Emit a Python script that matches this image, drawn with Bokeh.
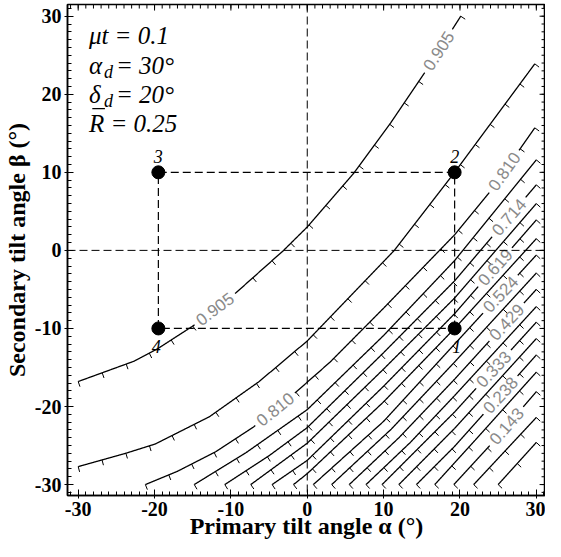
import numpy as np
from bokeh.plotting import figure
from bokeh.models import Span, FixedTicker, Range1d
from bokeh.core.properties import value
from bokeh.embed import file_html
from bokeh.resources import INLINE

# ---------------- data ----------------
# contour curves (alpha, beta) in degrees; levels k/21
c19_0905 = [(-30, -16.8), (-22.7, -14.2), (-19.6, -12.6), (-15, -9.7), (-9.3, -5.4), (-3.1, 0), (0, 3.0), (6.1, 9.9), (10.9, 16.3), (15.4, 22.8), (20.1, 30)]
c18_0857 = [(-30, -27.7), (-23.8, -26.0), (-19.9, -24.8), (-12.8, -21.3), (-6.3, -16.8), (0, -11.6), (11.4, 0), (19.3, 10.0), (29.8, 23.9)]
c17_0810 = [(-21.2, -30), (-17, -28.3), (-12, -25.8), (-7, -22.6), (-2, -18.6), (3, -14.3), (10, -7.4), (19.3, 2.0), (24, 7.6), (29.8, 15.7)]
c16_0762 = [(-14.8, -30), (-8, -25.9), (0, -20.4), (10, -10.9), (19.3, -1.3), (30, 11.6)]
c15_0714 = [(-10.8, -30), (-5, -26.3), (0, -22.7), (10, -13.1), (19.3, -3.9), (30, 8.4)]
c14_0667 = [(-7.4, -30), (0, -24.7), (10, -15.2), (19.3, -6.1), (30, 6.0)]
c13_0619 = [(-4.6, -30), (0, -26.9), (10, -17.4), (19.3, -8.1), (30, 3.9)]
c12_0571 = [(-1.8, -30), (0, -28.6), (10, -19.4), (19.3, -10.0), (30, 1.5)]
c11_0524 = [(0.8, -30), (10, -21.9), (19.3, -12.0), (30, -0.6)]
c10_0476 = [(3.2, -30), (11, -22.9), (19.3, -14.3), (30, -2.9)]
c09_0429 = [(5.5, -30), (12, -24.0), (19.3, -16.5), (30, -5.0)]
c08_0381 = [(7.7, -30), (13.5, -24.6), (19.3, -18.6), (30, -7.2)]
c07_0333 = [(9.8, -30), (19.3, -20.7), (30, -9.2)]
c06_0286 = [(12.0, -30), (19.3, -22.8), (30, -11.3)]
c05_0238 = [(14.3, -30), (19.3, -25.1), (30, -13.4)]
c04_0190 = [(16.7, -30), (22, -24.3), (30, -15.6)]
c03_0143 = [(19.2, -30), (24, -24.9), (30, -18.1)]
c02_0095 = [(21.8, -30), (30, -21.4)]
c01_0048 = [(25.0, -30), (30, -24.6)]
curves = [c19_0905, c18_0857, c17_0810, c16_0762, c15_0714, c14_0667, c13_0619,
          c12_0571, c11_0524, c10_0476, c09_0429, c08_0381, c07_0333, c06_0286,
          c05_0238, c04_0190, c03_0143, c02_0095, c01_0048]

# contour labels: text, curve index (0 = 0.905 line), alpha position
lab_text = ["0.905", "0.905", "0.810", "0.810", "0.714", "0.619", "0.524", "0.429", "0.333", "0.238", "0.143"]
lab_curve = [0, 0, 2, 2, 4, 6, 8, 10, 12, 14, 16]
lab_alpha = [17.2, -12.1, 25.8, -4.2, 26.4, 24.6, 25.3, 26.1, 24.4, 25.3, 26.1]

# tilt points
pt_alpha = [19.3, 19.3, -19.5, -19.5]
pt_beta = [-10, 10, 10, -10]
pt_name = ["1", "2", "3", "4"]

ticks = [-30, -20, -10, 0, 10, 20, 30]
tick_labels = ["-30", "-20", "-10", "0", "10", "20", "30"]
minor = list(range(-31, 32))

X0, X1, Y0, Y1 = -31.4, 31.2, -31.4, 31.5

# ---------------- figure ----------------
p = figure(width=545, height=541, x_range=Range1d(X0, X1), y_range=Range1d(Y0, Y1),
           output_backend="svg", toolbar_location=None,
           min_border_left=61, min_border_right=0, min_border_top=4, min_border_bottom=40)
p.grid.visible = False
p.outline_line_color = "black"
p.outline_line_width = 1.5
p.background_fill_color = "white"

xb = p.below[0]
yl = p.left[0]
for ax in [xb, yl]:
    ax.ticker = FixedTicker(ticks=ticks, minor_ticks=minor)
    ax.major_tick_in = 6
    ax.major_tick_out = 3
    ax.minor_tick_in = 4
    ax.minor_tick_out = 0
    ax.axis_line_width = 1.5
    ax.major_tick_line_width = 1
    ax.major_label_overrides = {t: s for t, s in zip(ticks, tick_labels)}
    ax.major_label_text_font = "Liberation Serif"
    ax.major_label_text_font_style = "bold"
    ax.major_label_text_font_size = "20px"
    ax.major_label_text_color = "black"
    ax.major_label_standoff = 3
    ax.axis_label_text_font = "Liberation Serif"
    ax.axis_label_text_font_style = "bold"
    ax.axis_label_text_font_size = "24px"
    ax.axis_label_text_color = "black"
    ax.axis_label_standoff = 2
xb.axis_label_standoff = -6
xb.axis_label = "Primary tilt angle α (°)"
yl.axis_label = "Secondary tilt angle β (°)"

# mirrored inward ticks on top and right frame edges
tin_major, tin_minor = 6 / 7.73, 4 / 7.73
tx0 = minor + ticks
tlen = [tin_minor] * len(minor) + [tin_major] * len(ticks)
p.segment(tx0, [Y1] * len(tx0), tx0, [Y1 - l for l in tlen], line_color="black", line_width=1)
p.segment([X1] * len(tx0), tx0, [X1 - l for l in tlen], tx0, line_color="black", line_width=1)

# dashed reference lines
p.add_layout(Span(location=0, dimension="height", line_color="black", line_dash="8 4", line_width=1))
p.add_layout(Span(location=0, dimension="width", line_color="black", line_dash="8 4", line_width=1))

# dashed rectangle through the four points
order = [0, 1, 2, 3, 0]
p.line([pt_alpha[i] for i in order], [pt_beta[i] for i in order], line_color="black",
       line_dash="8 4", line_width=1.2)

# ---- label placement on curves (position/angle taken from the curve itself) ----
lab_beta, lab_angle = [], []
for ci, ax_ in zip(lab_curve, lab_alpha):
    a = np.array(curves[ci], float)
    i = int(np.clip(np.searchsorted(a[:, 0], ax_) - 1, 0, len(a) - 2))
    t = (ax_ - a[i, 0]) / (a[i + 1, 0] - a[i, 0])
    lab_beta.append(a[i, 1] + t * (a[i + 1, 1] - a[i, 1]))
    lab_angle.append(np.arctan2(a[i + 1, 1] - a[i, 1], a[i + 1, 0] - a[i, 0]))
gap_r = 3.3  # half gap length in axis units


def in_gap(x, y, ci):
    for c, lx, ly in zip(lab_curve, lab_alpha, lab_beta):
        if c == ci and np.hypot(x - lx, y - ly) < gap_r:
            return True
    return False


# contour lines with hachures
mx, my = [], []
hx0, hy0, hx1, hy1 = [], [], [], []
for ci, pts in enumerate(curves):
    a = np.array(pts, float)
    dense = [a[0]]
    for k in range(len(a) - 1):
        seg = a[k + 1] - a[k]
        n = max(int(np.ceil(np.hypot(*seg) / 0.05)), 1)
        for j in range(1, n + 1):
            dense.append(a[k] + seg * j / n)
    dense = np.array(dense)
    keep = np.array([not in_gap(x, y, ci) for x, y in dense])
    run = []
    for q, kflag in zip(dense, keep):
        if kflag:
            run.append(q)
        else:
            if len(run) > 1:
                mx.append([r[0] for r in run]); my.append([r[1] for r in run])
            run = []
    if len(run) > 1:
        mx.append([r[0] for r in run]); my.append([r[1] for r in run])
    seg = np.diff(a, axis=0)
    L = np.hypot(seg[:, 0], seg[:, 1])
    cum = np.concatenate([[0.0], np.cumsum(L)])
    total = cum[-1]
    n = max(int(round(total / 3.3)), 1)
    for s in np.linspace(0, total, n + 1):
        i = int(min(max(np.searchsorted(cum, s, side="right") - 1, 0), len(seg) - 1))
        t = (s - cum[i]) / L[i]
        q = a[i] + t * seg[i]
        if in_gap(q[0], q[1], ci):
            continue
        d = seg[i] / L[i]
        nrm = np.array([d[1], -d[0]])
        hx0.append(q[0]); hy0.append(q[1])
        hx1.append(q[0] + 0.7 * nrm[0]); hy1.append(q[1] + 0.7 * nrm[1])
p.multi_line(mx, my, line_color="black", line_width=1.3)
p.segment(hx0, hy0, hx1, hy1, line_color="black", line_width=1)

# contour labels
p.text(lab_alpha, lab_beta, text=lab_text, angle=lab_angle, text_align="center",
       text_baseline="middle", text_font=value("Liberation Sans"), text_font_size="17px",
       text_color="#8a8a8a")

# points
p.scatter(pt_alpha, pt_beta, size=13, color="black")
p.text(pt_alpha, pt_beta, text=pt_name, x_offset=[2, 0, 0, -2], y_offset=[18, -16, -16, 18],
       text_align="center", text_baseline="middle", text_font=value("Liberation Serif"),
       text_font_style="italic", text_font_size="18px", text_color="black")

# parameter annotation
fnt = value("Liberation Serif")
ax0 = -28.6
p.text([ax0], [27.5], text=["μt = 0.1"], text_font=fnt, text_font_style="italic",
       text_font_size="25px", text_baseline="middle")
p.text([ax0, ax0], [23.7, 20.0], text=["α", "δ"], text_font=fnt, text_font_style="italic",
       text_font_size="25px", text_baseline="middle")
p.text([ax0, ax0], [23.7, 20.0], text=["d", "d"], x_offset=15, y_offset=7, text_font=fnt,
       text_font_style="italic", text_font_size="18px", text_baseline="middle")
p.text([ax0, ax0], [23.7, 20.0], text=["= 30°", "= 20°"], x_offset=27, text_font=fnt,
       text_font_style="italic", text_font_size="25px", text_baseline="middle")
p.text([ax0], [16.3], text=["R = 0.25"], text_font=fnt, text_font_style="italic",
       text_font_size="25px", text_baseline="middle")
# bar over the R
p.segment([ax0 + 0.45], [16.3 + 1.85], [ax0 + 2.1], [16.3 + 1.85], line_color="black", line_width=1.3)

open("out.html", "w").write(file_html(p, INLINE))
